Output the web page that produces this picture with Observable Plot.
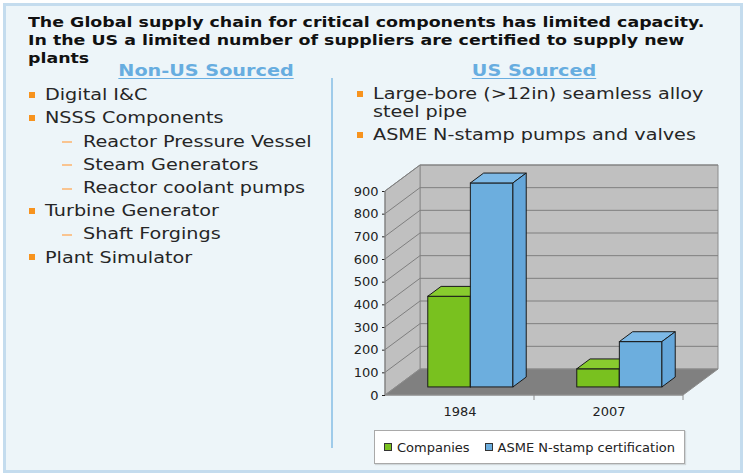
<!DOCTYPE html>
<html><head><meta charset="utf-8">
<script src="https://cdn.jsdelivr.net/npm/d3@7"></script>
<script src="https://cdn.jsdelivr.net/npm/@observablehq/plot@0.6"></script>
<style>
html,body{margin:0;padding:0;background:#fff;}
#slide{position:relative;width:745px;height:474px;overflow:hidden;font-family:"DejaVu Sans",Verdana,sans-serif;}
#frame{position:absolute;left:3px;top:3px;width:734px;height:464px;border:3px solid #c4dcee;background:#edf5f9;}
.t{position:absolute;white-space:nowrap;}
#divider{position:absolute;left:331px;top:78px;width:1.5px;height:370px;background:#9fcbea;}
#chart{position:absolute;left:340px;top:150px;}
#legend{position:absolute;left:374px;top:430px;width:309px;height:32px;background:#fff;border:1px solid #a9a9a9;box-shadow:1px 1px 1px rgba(0,0,0,0.12);font:13px "DejaVu Sans",sans-serif;color:#222;display:flex;align-items:center;}
.sw{display:inline-block;width:6px;height:6px;border:1px solid #333;margin:0 5px 0 0;}
.li{display:flex;align-items:center;margin-left:9px;}
</style></head>
<body><div id="slide"><div id="frame"></div><div id="divider"></div><div id="chart"></div><div id="legend"></div></div>
<script>
// ---- data ----
const titleLines = [
  "The Global supply chain for critical components has limited capacity.",
  "In the US a limited number of suppliers are certified to supply new",
  "plants"
];
const leftHeader = "Non-US Sourced";
const rightHeader = "US Sourced";
const leftItems = ["Digital I&C", "NSSS Components", "Reactor Pressure Vessel", "Steam Generators", "Reactor coolant pumps", "Turbine Generator", "Shaft Forgings", "Plant Simulator"];
const leftLevels = [1, 1, 2, 2, 2, 1, 2, 1];
const rightItems = ["Large-bore (>12in) seamless alloy", "ASME N-stamp pumps and valves"];
const rightWrap = ["steel pipe", null];
const years = ["1984", "2007"];
const seriesNames = ["Companies", "ASME N-stamp certification"];
const companies = [400, 80];
const nstamp = [900, 200];
const yTicks = [0, 100, 200, 300, 400, 500, 600, 700, 800, 900];
const seriesFront = ["#79c11f", "#6caede"];
const seriesTop = ["#88cc2e", "#7db9e6"];
const seriesSide = ["#6cae17", "#64a6da"];

// ---- text ----
const slide = document.getElementById("slide");
function place(text, x, baseline, size, opts = {}) {
  const d = document.createElement("div");
  d.className = "t";
  d.textContent = text;
  d.style.fontSize = size + "px";
  d.style.lineHeight = size + "px";
  d.style.top = (baseline - 0.846 * size) + "px";
  d.style.left = x + "px";
  d.style.fontWeight = opts.bold ? "bold" : "normal";
  d.style.color = opts.color || "#222";
  if (opts.center) {
    d.style.transformOrigin = "50% 50%";
    d.style.transform = "translateX(-50%) scaleX(1.2)";
  } else {
    d.style.transformOrigin = "0 0";
    d.style.transform = "scaleX(1.2)";
  }
  if (opts.underline) { d.style.textDecoration = "underline"; d.style.textUnderlineOffset = "2px"; }
  slide.appendChild(d);
  return d;
}
function box(x, y, w, h, color) {
  const d = document.createElement("div");
  Object.assign(d.style, {position: "absolute", left: x + "px", top: y + "px", width: w + "px", height: h + "px", background: color});
  slide.appendChild(d);
}
titleLines.forEach((t, i) => place(t, 28, 27 + i * 18, 14.5, {bold: true, color: "#111"}));
place(leftHeader, 205.5, 77, 16, {bold: true, color: "#67ade0", center: true, underline: true});
place(rightHeader, 533.5, 77, 16, {bold: true, color: "#67ade0", center: true, underline: true});
leftItems.forEach((t, i) => {
  const b = 100.8 + i * 23.2;
  if (leftLevels[i] === 1) { box(29, Math.round(b - 9), 6, 6, "#f7931e"); place(t, 45, b, 16, {color: "#262626"}); }
  else { box(62, Math.round(b - 6), 10, 2, "#f9c490"); place(t, 83, b, 16, {color: "#262626"}); }
});
const rightBase = [100, 140.5];
rightItems.forEach((t, i) => {
  const b = rightBase[i];
  box(357, Math.round(b - 9), 6, 6, "#f7931e");
  place(t, 372.5, b, 16, {color: "#262626"});
  if (rightWrap[i]) place(rightWrap[i], 372.5, b + 18, 16, {color: "#262626"});
});

// ---- chart ----
const W = 400, H = 275, ML = 45, MR = 57, MT = 41, MB = 30;
const DX = 35, DY = -26, F1 = 0.31, F2 = 0.69;
const GAP = 1.5; // gap width in bar widths
const rows = [companies, nstamp].map((vals, s) => years.map((yr, i) => ({year: yr, value: vals[i], s})));
const barW = (W - ML - MR) / years.length / (seriesNames.length + GAP);

function walls(index, {x, y}) {
  const [X0, X1] = x.range();
  const y0 = y(0), yT = y(yTicks[yTicks.length - 1]);
  const g = d3.create("svg:g");
  const poly = (pts, fill, stroke) => g.append("path").attr("d", "M" + pts.map(p => p.join(",")).join("L") + "Z").attr("fill", fill).attr("stroke", stroke).attr("stroke-width", 1);
  poly([[X0 + DX, y0 + DY], [X1 + DX, y0 + DY], [X1 + DX, yT + DY], [X0 + DX, yT + DY]], "#c0c0c0", "#8c8c8c");
  poly([[X0, y0], [X0 + DX, y0 + DY], [X0 + DX, yT + DY], [X0, yT]], "#c0c0c0", "#8c8c8c");
  poly([[X0, y0], [X1, y0], [X1 + DX, y0 + DY], [X0 + DX, y0 + DY]], "#808080", "#8c8c8c");
  yTicks.slice(1).forEach(t => {
    const yy = y(t);
    g.append("line").attr("x1", X0 + DX).attr("x2", X1 + DX).attr("y1", yy + DY).attr("y2", yy + DY).attr("stroke", "#7f7f7f");
    g.append("line").attr("x1", X0).attr("x2", X0 + DX).attr("y1", yy).attr("y2", yy + DY).attr("stroke", "#7f7f7f");
  });
  g.append("line").attr("x1", X0).attr("x2", X0).attr("y1", y0).attr("y2", yT).attr("stroke", "#7f7f7f");
  g.append("line").attr("x1", X0).attr("x2", X1).attr("y1", y0).attr("y2", y0).attr("stroke", "#8c8c8c");
  const bw = x.bandwidth();
  years.forEach((yr, i) => {
    const xb = x(yr) + bw;
    g.append("line").attr("x1", xb).attr("x2", xb).attr("y1", y0).attr("y2", y0 + 5).attr("stroke", "#8c8c8c");
  });
  return g.node();
}
function prism(data, s) {
  return (index, {x, y}) => {
    const g = d3.create("svg:g").attr("stroke", "#1a1a1a").attr("stroke-width", 1).attr("stroke-linejoin", "round");
    const w = x.bandwidth() / (seriesNames.length + GAP);
    const d = (F2 - F1) * DX, e = (F2 - F1) * DY;
    data.forEach(r => {
      const L = x(r.year) + (GAP / 2 + s) * w + F1 * DX, R = L + w;
      const T = y(r.value) + F1 * DY, B = y(0) + F1 * DY;
      g.append("path").attr("fill", seriesTop[s]).attr("d", `M${L},${T}L${R},${T}L${R + d},${T + e}L${L + d},${T + e}Z`);
      g.append("path").attr("fill", seriesSide[s]).attr("d", `M${R},${T}L${R + d},${T + e}L${R + d},${B + e}L${R},${B}Z`);
    });
    return g.node();
  };
}
const marks = [walls];
rows.forEach((data, s) => {
  marks.push(Plot.barY(data, {
    x: "year", y1: 0, y2: "value", fill: seriesFront[s], stroke: "#1a1a1a", strokeWidth: 1,
    insetLeft: (GAP / 2 + s) * barW, insetRight: (GAP / 2 + seriesNames.length - 1 - s) * barW,
    dx: F1 * DX, dy: F1 * DY
  }));
  marks.push(prism(data, s));
});
const chart = Plot.plot({
  width: W, height: H, marginLeft: ML, marginRight: MR, marginTop: MT, marginBottom: MB,
  style: {background: "transparent", fontFamily: "DejaVu Sans, sans-serif", fontSize: "13px", color: "#222", overflow: "visible"},
  x: {type: "band", domain: years, paddingInner: 0, paddingOuter: 0, tickSize: 0, tickPadding: 11, label: null},
  y: {domain: [0, 900], ticks: yTicks, tickSize: 3, tickPadding: 4, label: null, tickFormat: d => String(d)},
  marks
});
document.getElementById("chart").appendChild(chart);

// ---- legend ----
const legend = document.getElementById("legend");
seriesNames.forEach((n, i) => {
  const it = document.createElement("span");
  it.className = "li";
  if (i > 0) it.style.marginLeft = "15px";
  const sw = document.createElement("span");
  sw.className = "sw"; sw.style.background = seriesFront[i];
  it.appendChild(sw);
  it.appendChild(document.createTextNode(n));
  legend.appendChild(it);
});
</script></body></html>
